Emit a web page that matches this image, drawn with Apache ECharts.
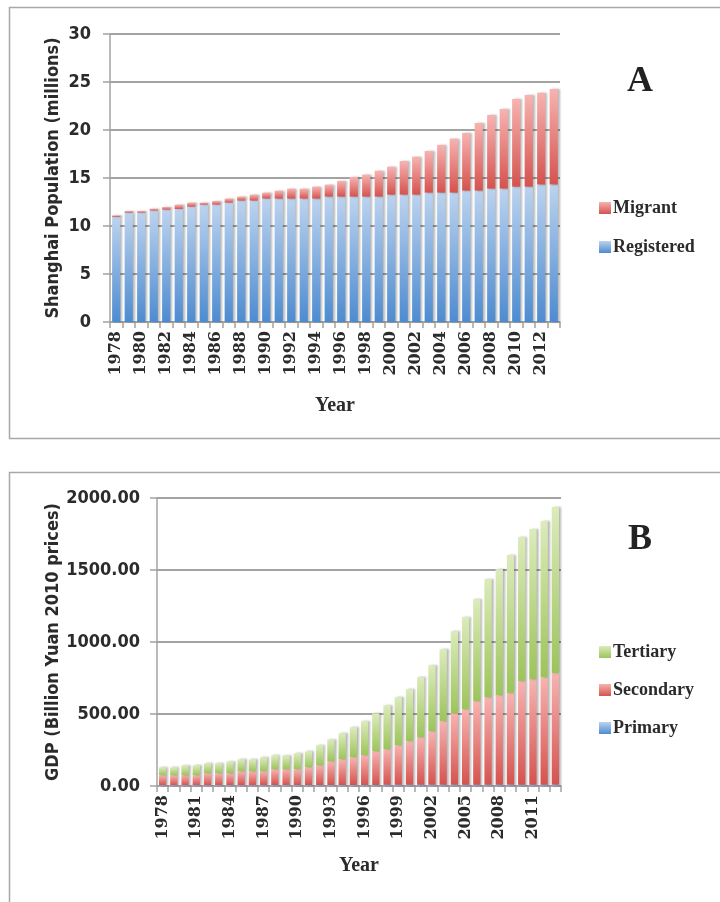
<!DOCTYPE html>
<html>
<head>
<meta charset="utf-8">
<script src="https://cdn.jsdelivr.net/npm/echarts@6/dist/echarts.min.js"></script>
<style>
html,body{margin:0;padding:0;background:#fff;}
#c{width:720px;height:902px;}
</style>
</head>
<body>
<div id="c"></div>
<script>
// ---------- Data ----------
const years = [];
for (let y = 1978; y <= 2013; y++) years.push(String(y));

// Panel A: Shanghai population (millions)
const registered = [10.94,11.39,11.39,11.6,11.7,11.77,12.01,12.22,12.22,12.43,12.64,12.64,12.85,12.85,12.85,12.85,12.85,13.06,13.06,13.06,13.06,13.06,13.26,13.26,13.26,13.47,13.47,13.47,13.68,13.68,13.89,13.89,14.1,14.1,14.31,14.31];
const migrant = [0.17,0.17,0.17,0.2,0.28,0.45,0.42,0.21,0.38,0.42,0.42,0.62,0.62,0.83,1.04,1.04,1.25,1.25,1.63,2.04,2.29,2.7,2.92,3.51,3.96,4.34,4.97,5.63,6.01,7.05,7.67,8.3,9.13,9.55,9.58,9.96];
const popTicks = [0,5,10,15,20,25,30];

// Panel B: GDP (billion yuan, 2010 prices)
const primary = [6,6,6,6,6,6,6,6,6,6,7,7,7,7,7,7,7,7,7,7,8,8,8,8,8,8,8,8,8,8,8,8,8,8,8,8];
const secondary = [68,68,68,68,82,82,82,96,96,96,109,109,109,123,137,164,178,192,206,234,247,275,303,330,372,442,497,525,581,608,622,636,720,734,747,775];
const tertiary = [56,56,70,70,70,70,83,83,83,97,97,97,111,111,139,153,181,209,237,264,306,333,361,417,459,500,570,640,709,821,876,960,1001,1042,1085,1154];
const gdpTicks = [0,500,1000,1500,2000];

// ---------- Styles ----------
const grad = (top, bottom) => new echarts.graphic.LinearGradient(0,0,0,1,[{offset:0,color:top},{offset:1,color:bottom}]);
const blue = grad('#bcd3ef','#4d8bd0');
const red = grad('#f7b3b1','#d5524e');
const green = grad('#dcebbb','#9cc45a');
const shadow = {shadowColor:'rgba(0,0,0,0.28)',shadowBlur:2,shadowOffsetX:2,shadowOffsetY:0};
const TXT = '#2b2b2b';
const serif = 'Liberation Serif';
const gridColor = '#a3a3a3';

function xAxis(gridIndex, labelInterval, nameGap){
  return {
    type:'category', gridIndex, data: years,
    axisLine:{show:true,lineStyle:{color:gridColor,width:1.5}},
    axisTick:{show:true,interval:0,length:6,lineStyle:{color:gridColor,width:1.5}},
    axisLabel:{interval:labelInterval,rotate:90,color:TXT,fontFamily:'DejaVu Serif',fontWeight:'bold',fontSize:16,margin:9},
    name:'Year', nameLocation:'middle', nameGap, nameMoveOverlap:false,
    nameTextStyle:{color:TXT,fontFamily:serif,fontWeight:'bold',fontSize:20}
  };
}
function yAxis(gridIndex, ticks, name, nameGap, fmt, nameSize, margin){
  return {
    type:'value', gridIndex, min:ticks[0], max:ticks[ticks.length-1], interval:ticks[1]-ticks[0],
    axisLine:{show:true,lineStyle:{color:gridColor,width:1.5}},
    axisTick:{show:true,length:7,lineStyle:{color:gridColor,width:1.5}},
    splitLine:{show:true,lineStyle:{color:gridColor,width:2}},
    axisLabel:{color:TXT,fontFamily:'DejaVu Sans Condensed',fontWeight:'bold',fontSize:18,margin,formatter:fmt},
    name, nameLocation:'middle', nameRotate:90, nameGap, nameMoveOverlap:false,
    nameTextStyle:{color:TXT,fontFamily:'DejaVu Sans Condensed',fontWeight:'bold',fontSize:nameSize}
  };
}

const option = {
  animation:false,
  backgroundColor:'#fff',
  graphic:[
    {type:'rect',shape:{x:9.5,y:7.5,width:720,height:431},style:{fill:'none',stroke:'#a8a8a8',lineWidth:1.5},silent:true},
    {type:'rect',shape:{x:9.5,y:472.5,width:720,height:470},style:{fill:'none',stroke:'#a8a8a8',lineWidth:1.5},silent:true},
    {type:'text',x:640,y:82,style:{text:'A',fontFamily:serif,fontWeight:'bold',fontSize:36,fill:'#222',align:'center',verticalAlign:'middle'}},
    {type:'text',x:640,y:540,style:{text:'B',fontFamily:serif,fontWeight:'bold',fontSize:36,fill:'#222',align:'center',verticalAlign:'middle'}}
  ],
  grid:[
    {left:110,top:34,width:450,height:288},
    {left:157,top:498,width:404,height:288}
  ],
  legend:[
    {data:['Migrant','Registered'],orient:'vertical',left:594,top:194,itemWidth:12,itemHeight:12,itemGap:21,
     icon:'rect',textStyle:{color:TXT,fontFamily:serif,fontWeight:'bold',fontSize:18,padding:[0,0,0,-3]}},
    {data:['Tertiary','Secondary','Primary'],orient:'vertical',left:594,top:638,itemWidth:12,itemHeight:12,itemGap:20,
     icon:'rect',textStyle:{color:TXT,fontFamily:serif,fontWeight:'bold',fontSize:18,padding:[0,0,0,-3]}}
  ],
  xAxis:[ xAxis(0,1,74), xAxis(1,2,70) ],
  yAxis:[
    yAxis(0,popTicks,'Shanghai Population (millions)',48,null,18,19),
    yAxis(1,gdpTicks,'GDP (Billion Yuan 2010 prices)',95,v=>v.toFixed(2),18,17)
  ],
  series:[
    {name:'Registered',type:'bar',stack:'pop',xAxisIndex:0,yAxisIndex:0,barWidth:'66%',data:registered,itemStyle:Object.assign({color:blue},shadow)},
    {name:'Migrant',type:'bar',stack:'pop',xAxisIndex:0,yAxisIndex:0,barWidth:'66%',data:migrant,itemStyle:Object.assign({color:red},shadow)},
    {name:'Primary',type:'bar',stack:'gdp',xAxisIndex:1,yAxisIndex:1,barWidth:'65%',data:primary,itemStyle:Object.assign({color:blue},shadow)},
    {name:'Secondary',type:'bar',stack:'gdp',xAxisIndex:1,yAxisIndex:1,barWidth:'65%',data:secondary,itemStyle:Object.assign({color:red},shadow)},
    {name:'Tertiary',type:'bar',stack:'gdp',xAxisIndex:1,yAxisIndex:1,barWidth:'65%',data:tertiary,itemStyle:Object.assign({color:green},shadow)}
  ]
};
const chart = echarts.init(document.getElementById('c'),null,{renderer:'canvas'});
chart.setOption(option);
</script>
</body>
</html>
